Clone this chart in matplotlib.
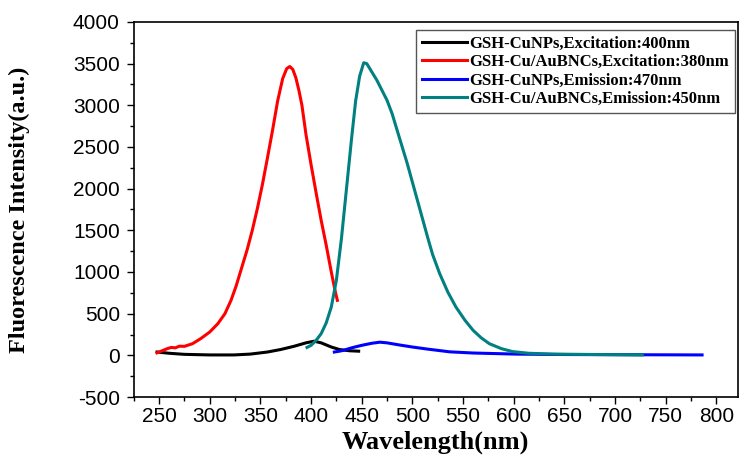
"""
Fluorescence excitation / emission spectra of GSH-CuNPs and GSH-Cu/AuBNCs
"""

import matplotlib
matplotlib.use("Agg")
import matplotlib.pyplot as plt
from matplotlib.ticker import MultipleLocator

plt.rcParams["axes.unicode_minus"] = False

# GSH-CuNPs, excitation (em 400nm)
cu_ex_wl = [248, 260, 275, 300, 324, 340, 357, 370, 383, 395, 403, 410, 420, 428, 438, 447]
cu_ex_int = [40, 25, 12, 5, 5, 15, 40, 70, 108, 150, 170, 150, 100, 70, 55, 50]

# GSH-Cu/AuBNCs, excitation (em 380nm)
cuau_ex_wl = [248, 253, 258, 262, 266, 270, 275, 283, 291, 300, 308, 315, 321, 326, 331,
              337, 342, 347, 352, 357, 362, 367, 372, 376, 379, 382, 385, 388, 391, 395,
              400, 405, 410, 415, 420, 424, 426]
cuau_ex_int = [30, 55, 80, 95, 90, 110, 108, 140, 200, 280, 380, 500, 660, 830, 1030,
               1270, 1500, 1760, 2050, 2370, 2700, 3050, 3320, 3440, 3465, 3430, 3330,
               3180, 3000, 2650, 2290, 1950, 1620, 1320, 1000, 760, 660]

# GSH-CuNPs, emission (ex 470nm)
cu_em_wl = [423, 428, 432, 440, 450, 460, 468, 475, 487, 500, 515, 537, 560, 602, 650, 700, 786]
cu_em_int = [40, 50, 60, 90, 120, 145, 158, 150, 125, 100, 75, 42, 28, 15, 10, 8, 5]

# GSH-Cu/AuBNCs, emission (ex 450nm)
cuau_em_wl = [396, 400, 405, 410, 415, 420, 425, 430, 435, 440, 444, 448, 452, 455, 460,
              465, 470, 475, 480, 485, 490, 495, 500, 505, 510, 515, 520, 527, 535, 543,
              552, 560, 568, 576, 588, 599, 615, 640, 680, 727]
cuau_em_int = [95, 120, 180, 260, 390, 580, 900, 1400, 2000, 2600, 3050, 3350, 3510, 3500,
               3400, 3300, 3180, 3060, 2900, 2700, 2500, 2300, 2080, 1860, 1640, 1420,
               1210, 980, 760, 580, 420, 300, 210, 140, 80, 45, 25, 15, 10, 5]

labels = ["GSH-CuNPs,Excitation:400nm",
          "GSH-Cu/AuBNCs,Excitation:380nm",
          "GSH-CuNPs,Emission:470nm",
          "GSH-Cu/AuBNCs,Emission:450nm"]
colors = ["black", "#ff0000", "#0000ff", "#008080"]

fig = plt.figure(figsize=(7.39, 4.66), dpi=100)
ax = fig.add_axes([0.181, 0.148, 0.817, 0.805])

series = [(cu_ex_wl, cu_ex_int), (cuau_ex_wl, cuau_ex_int),
          (cu_em_wl, cu_em_int), (cuau_em_wl, cuau_em_int)]
for (wl, inten), lab, col in zip(series, labels, colors):
    ax.plot(wl, inten, color=col, lw=2.2, label=lab)

ax.set_xlim(225, 821)
ax.set_ylim(-500, 4000)
ax.xaxis.set_major_locator(MultipleLocator(50))
ax.xaxis.set_minor_locator(MultipleLocator(25))
ax.yaxis.set_major_locator(MultipleLocator(500))
ax.yaxis.set_minor_locator(MultipleLocator(250))
ax.tick_params(which="both", direction="out", top=False, right=False,
               labelsize=15, width=1)
ax.tick_params(which="major", length=5)
ax.tick_params(axis="y", which="major", pad=5)
ax.tick_params(axis="x", which="major", pad=2)
ax.tick_params(which="minor", length=3)
for lbl in ax.get_xticklabels() + ax.get_yticklabels():
    lbl.set_fontfamily("Liberation Sans")

for sp in ax.spines.values():
    sp.set_linewidth(1.2)

ax.set_xlabel("Wavelength(nm)", fontfamily="Liberation Serif", fontweight="bold",
              fontsize=19)
ax.set_ylabel("Fluorescence Intensity(a.u.)", fontfamily="Liberation Serif",
              fontweight="bold", fontsize=17.5)
ax.xaxis.set_label_coords(0.5, -0.09)
ax.yaxis.set_label_coords(-0.172, 0.5)

leg = ax.legend(loc="upper right", bbox_to_anchor=(0.995, 0.979), borderaxespad=0,
                fancybox=False, framealpha=1, edgecolor="#555555", handlelength=2.7,
                handletextpad=0.15, labelspacing=0.15, borderpad=0.35,
                prop={"family": "Liberation Serif", "weight": "bold", "size": 12})
leg.get_frame().set_linewidth(1.0)

fig.savefig("out.png", dpi=100)
